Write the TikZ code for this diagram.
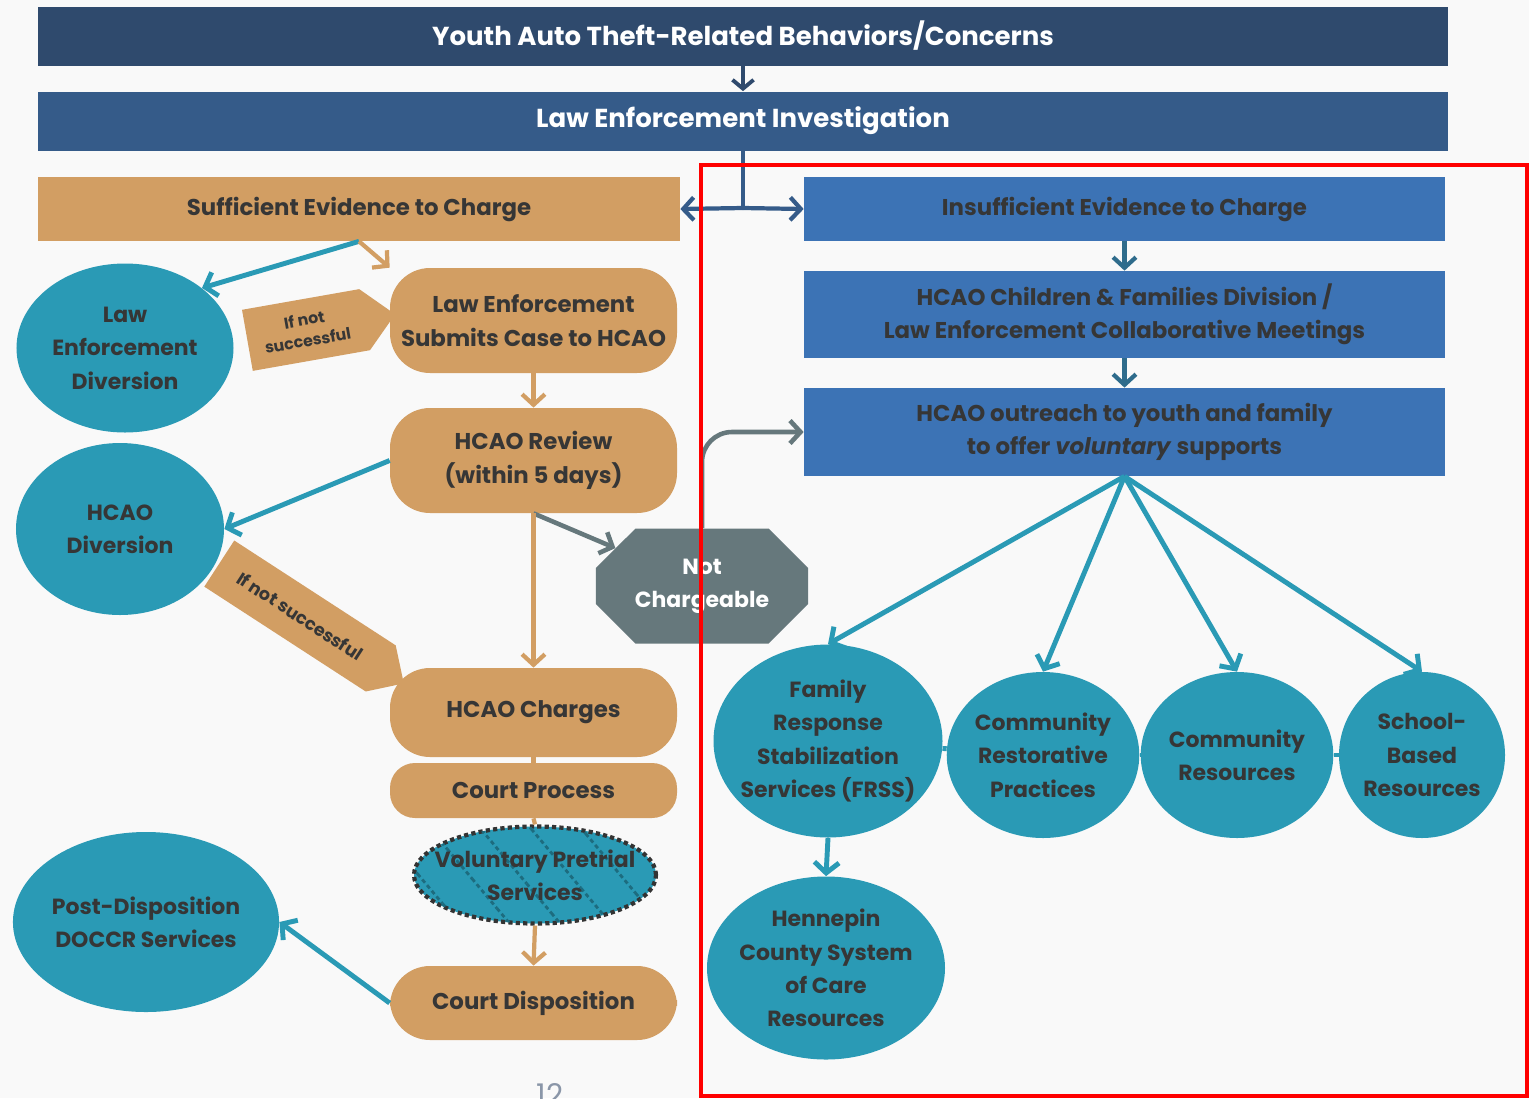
\documentclass[tikz,border=0pt]{standalone}
\usepackage{fontspec}
\setmainfont{Poppins}
\usepackage{tikz}
\usetikzlibrary{positioning}
\usetikzlibrary{arrows.meta}
\usetikzlibrary{shapes.geometric,shapes.misc,shapes.symbols}
\usetikzlibrary{patterns.meta}
\definecolor{navytop}{HTML}{2F4A6D}
\definecolor{navyinv}{HTML}{355B89}
\definecolor{tanfill}{HTML}{D29E63}
\definecolor{circteal}{HTML}{2A9AB5}
\definecolor{boxblue}{HTML}{3C73B5}
\definecolor{octgrey}{HTML}{66787C}
\definecolor{steel}{HTML}{2F6C8C}
\definecolor{inktext}{HTML}{363636}
\definecolor{bgpage}{HTML}{F9F9F9}
\definecolor{pagegrey}{HTML}{8A96A8}

\begin{document}
\begin{tikzpicture}[x=0.2mm, y=-0.2mm,
							bar/.style={rectangle, text=white, minimum width=28.2cm, minimum height=1.18cm, font=\bfseries\fontsize{14.8}{18}\selectfont},
							tanbar/.style={rectangle, fill=tanfill, text=inktext, minimum width=12.84cm, minimum height=1.28cm, font=\bfseries\fontsize{13}{19}\selectfont},
							bluebox/.style={rectangle, fill=boxblue, text=inktext, minimum width=12.82cm, align=center, font=\bfseries\fontsize{13}{19}\selectfont},
							tanpill/.style={rectangle, rounded corners=0.8cm, fill=tanfill, text=inktext, minimum width=5.74cm, align=center, font=\bfseries\fontsize{13}{19}\selectfont},
							roundnode/.style={ellipse, fill=circteal, text=inktext, inner sep=0pt, align=center, font=\bfseries\fontsize{12.5}{19}\selectfont},
							tag/.style={signal, signal to=east, fill=tanfill, text=inktext, inner sep=1pt, align=center, font=\bfseries\fontsize{9}{12}\selectfont},
							tanlink/.style={draw=tanfill, line width=2.4pt, -{Straight Barb[length=6pt, width=13pt]}},
							teallink/.style={draw=circteal, line width=2.8pt, -{Straight Barb[length=6pt, width=14pt]}},
							steellink/.style={draw=steel, line width=2.4pt, -{Straight Barb[length=6pt, width=13pt]}},
							greylink/.style={draw=octgrey, line width=2.6pt, -{Straight Barb[length=6pt, width=13pt]}},
							]
							\useasboundingbox (0,0) rectangle (1529,1098);
							\fill[bgpage] (0,0) rectangle (1529,1098);
							%Nodes
							\node[bar, fill=navytop]	(youth)		at (743,36)		{Youth Auto Theft-Related Behaviors/Concerns};
							\node[bar, fill=navyinv]	(invest)	at (743,121)	{Law Enforcement Investigation};
							\node[tanbar]				(suff)		at (359,209)	{Sufficient Evidence to Charge};
							\node[bluebox, minimum height=1.28cm]	(insuff)	at (1124.5,209)	{Insufficient Evidence to Charge};
							\node[bluebox, minimum height=1.74cm]	(meet)		at (1124.5,314.5)	{HCAO Children \& Families Division /\\Law Enforcement Collaborative Meetings};
							\node[bluebox, minimum height=1.76cm]	(outreach)	at (1124.5,432)	{HCAO outreach to youth and family\\to offer \textit{voluntary} supports};
							\coordinate					(split)		at (743,208);

							\node[roundnode, minimum width=4.34cm, minimum height=3.38cm]	(lediv)		at (125,348)	{Law\\Enforcement\\Diversion};
							\node[tag, rotate=10, minimum width=3cm, minimum height=1.24cm]	(tag1)		at (306,330)	{If not\\successful};
							\node[tanpill, minimum height=2.1cm]	(lesub)		at (533.5,320.5)	{Law Enforcement\\Submits Case to HCAO};
							\node[tanpill, minimum height=2.1cm]	(review)	at (533.5,460.5)	{HCAO Review\\(within 5 days)};
							\node[roundnode, minimum width=4.16cm, minimum height=3.44cm]	(hcaodiv)	at (120,529)	{HCAO\\Diversion};
							\node[tag, rotate=-33, minimum width=4.4cm, minimum height=1.1cm, font=\bfseries\fontsize{10}{12}\selectfont]	(tag2)	at (300,616)	{If not successful};
							\node[chamfered rectangle, chamfered rectangle xsep=0.7cm, fill=octgrey, text=white, minimum width=4.08cm, minimum height=2.3cm, align=center, font=\bfseries\fontsize{12.5}{19}\selectfont]	(notch)	at (702,586)	{Not\\Chargeable};
							\node[tanpill, minimum height=1.78cm]	(charges)	at (533.5,712.5)	{HCAO Charges};
							\node[tanpill, minimum height=1.1cm, rounded corners=0.5cm]	(court)		at (533.5,790.5)	{Court Process};
							\node[roundnode, inner xsep=-0.35cm, minimum width=4.84cm, minimum height=1.94cm, draw=black!80, line width=2.4pt, dash pattern=on 2.4pt off 1.8pt, postaction={pattern={Lines[angle=-50, distance=22pt, line width=1.6pt]}, pattern color=circteal!70!black}]	(pretrial)	at (535,875)	{Voluntary Pretrial\\Services};
							\node[tanpill, minimum height=1.48cm]	(dispo)		at (533.5,1003)	{Court Disposition};
							\node[roundnode, minimum width=5.22cm, minimum height=3.6cm]	(postdisp)	at (146,922)	{Post-Disposition\\DOCCR Services};

							\node[roundnode, inner xsep=-0.15cm, minimum width=4.58cm, minimum height=3.86cm]	(frss)		at (828,741)	{Family\\Response\\Stabilization\\Services (FRSS)};
							\node[roundnode, minimum width=3.74cm, minimum height=3.32cm]	(restor)	at (1043,755)	{Community\\Restorative\\Practices};
							\node[roundnode, minimum width=3.7cm, minimum height=3.32cm]	(commres)	at (1237,755)	{Community\\Resources};
							\node[roundnode, minimum width=3.3cm, minimum height=3.32cm]	(school)	at (1422,755)	{School-\\Based\\Resources};
							\node[roundnode, inner xsep=-0.1cm, minimum width=4.76cm, minimum height=3.66cm]	(hennepin)	at (826,968)	{Hennepin\\County System\\of Care\\Resources};
							\node[text=pagegrey, anchor=north, inner sep=0pt, font=\fontsize{17}{20}\selectfont]	(page)	at (550,1083)	{12};

							%Connectors
							\draw[draw=navytop, line width=2.2pt, -{Straight Barb[length=5pt, width=12pt]}] (youth.south) -- (invest.north);
							\draw[draw=navyinv, line width=2.4pt] (invest.south) -- (split);
							\draw[draw=navyinv, line width=2.4pt, -{Straight Barb[length=6pt, width=13pt]}] (split) -- (suff.east);
							\draw[draw=navyinv, line width=2.4pt, -{Straight Barb[length=6pt, width=13pt]}] (split) -- (insuff.west);
							\draw[steellink] (insuff.south) -- (meet.north);
							\draw[steellink] (meet.south) -- (outreach.north);

							\draw[teallink] (suff.south) -- (lediv.north east);
							\draw[tanlink] (suff.south) -- (lesub.north west);
							\draw[tanlink] (lesub.south) -- (review.north);
							\draw[teallink] (review.west) -- (hcaodiv.east);
							\draw[greylink] (review.south) -- (notch.north west);
							\draw[tanlink] (review.south) -- (charges.north);
							\draw[draw=tanfill, line width=2.4pt] (charges.south) -- (court.north);
							\draw[draw=tanfill, line width=2.4pt] (court.south) -- (pretrial.north);
							\draw[tanlink] (pretrial.south) -- (dispo.north);
							\draw[teallink] (dispo.west) -- (postdisp.east);
							\draw[greylink, rounded corners=0.6cm] (notch.north) |- (outreach.west);

							\draw[teallink] (outreach.south) -- (frss.north);
							\draw[teallink] (outreach.south) -- (restor.north);
							\draw[teallink] (outreach.south) -- (commres.north);
							\draw[teallink] (outreach.south) -- (school.north);
							\draw[draw=circteal, line width=2.8pt] (frss) -- (restor);
							\draw[draw=circteal, line width=2.8pt] (restor) -- (commres);
							\draw[draw=circteal, line width=2.8pt] (commres) -- (school);
							\draw[teallink] (frss.south) -- (hennepin.north);

							%Frame
							\draw[red, line width=2.3pt] (701,165) rectangle (1527,1096);
						\end{tikzpicture}
\end{document}
